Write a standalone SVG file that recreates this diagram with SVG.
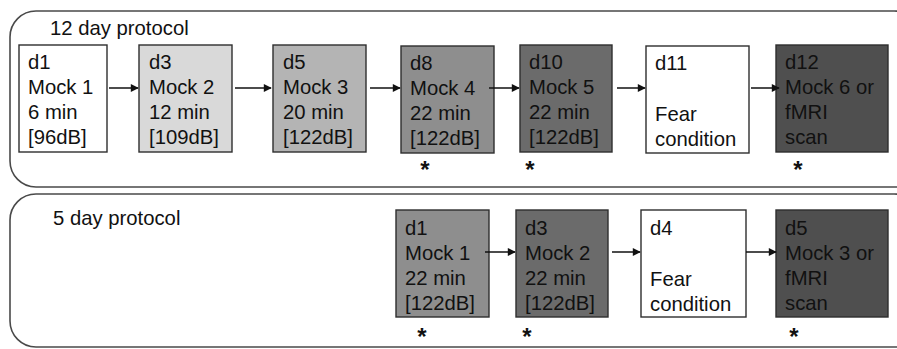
<svg xmlns="http://www.w3.org/2000/svg" width="897" height="349" viewBox="0 0 897 349">
  <style>
    .panel { fill: #ffffff; stroke: #4a4a4a; stroke-width: 1.6; }
    .box { stroke: #2e2e2e; stroke-width: 1.4; }
    .w { fill: #ffffff; }
    .g1 { fill: #d9d9d9; }
    .g2 { fill: #b4b4b4; }
    .g3 { fill: #8e8e8e; }
    .g4 { fill: #6b6b6b; }
    .g5 { fill: #4f4f4f; }
    text { font-family: "Liberation Sans", Arial, sans-serif; font-size: 20.3px; fill: #111111; }
    .star { font-size: 24px; font-weight: bold; text-anchor: middle; }
    .conn line { stroke: #111111; stroke-width: 1.5; marker-end: url(#ah); }
  </style>
  <defs>
    <marker id="ah" viewBox="0 0 10 10" refX="9" refY="5" markerWidth="9" markerHeight="8" markerUnits="userSpaceOnUse" orient="auto">
      <path d="M0,0 L10,5 L0,10 z" fill="#111111"/>
    </marker>
  </defs>
  <rect width="897" height="349" fill="#ffffff"/>

  <!-- protocol panels -->
  <rect class="panel" x="10" y="11" width="910" height="176" rx="26" ry="26"/>
  <rect class="panel" x="10" y="194" width="910" height="153" rx="26" ry="26"/>
  <text x="50" y="35">12 day protocol</text>
  <text x="53" y="225">5 day protocol</text>

  <!-- 12 day protocol -->
  <g id="p12-d1">
    <rect class="box w" x="19" y="45" width="88" height="107"/>
    <text x="28" y="69">d1</text><text x="28" y="94">Mock 1</text><text x="28" y="119">6 min</text><text x="28" y="144">[96dB]</text>
  </g>
  <g id="p12-d3">
    <rect class="box g1" x="139" y="45" width="93" height="107"/>
    <text x="149" y="69">d3</text><text x="149" y="94">Mock 2</text><text x="149" y="119">12 min</text><text x="149" y="144">[109dB]</text>
  </g>
  <g id="p12-d5">
    <rect class="box g2" x="273" y="45" width="93" height="107"/>
    <text x="283" y="69">d5</text><text x="283" y="94">Mock 3</text><text x="283" y="119">20 min</text><text x="283" y="144">[122dB]</text>
  </g>
  <g id="p12-d8">
    <rect class="box g3" x="401" y="46" width="93" height="107"/>
    <text x="410" y="70">d8</text><text x="410" y="95">Mock 4</text><text x="410" y="120">22 min</text><text x="410" y="145">[122dB]</text>
    <text class="star" x="425" y="178">*</text>
  </g>
  <g id="p12-d10">
    <rect class="box g4" x="520" y="45" width="92" height="107"/>
    <text x="529" y="69">d10</text><text x="529" y="94">Mock 5</text><text x="529" y="119">22 min</text><text x="529" y="144">[122dB]</text>
    <text class="star" x="530" y="178">*</text>
  </g>
  <g id="p12-d11">
    <rect class="box w" x="646" y="46" width="103" height="107"/>
    <text x="655" y="70">d11</text><text x="655" y="121">Fear</text><text x="655" y="146">condition</text>
  </g>
  <g id="p12-d12">
    <rect class="box g5" x="776" y="45" width="112" height="107"/>
    <text x="785" y="69">d12</text><text x="785" y="94">Mock 6 or</text><text x="785" y="119">fMRI</text><text x="785" y="144">scan</text>
    <text class="star" x="798" y="178">*</text>
  </g>

  <!-- 5 day protocol -->
  <g id="p5-d1">
    <rect class="box g3" x="396" y="210" width="93" height="107"/>
    <text x="405" y="235">d1</text><text x="405" y="260">Mock 1</text><text x="405" y="285">22 min</text><text x="405" y="310">[122dB]</text>
    <text class="star" x="422" y="345">*</text>
  </g>
  <g id="p5-d3">
    <rect class="box g4" x="516" y="210" width="92" height="107"/>
    <text x="525" y="235">d3</text><text x="525" y="260">Mock 2</text><text x="525" y="285">22 min</text><text x="525" y="310">[122dB]</text>
    <text class="star" x="527" y="345">*</text>
  </g>
  <g id="p5-d4">
    <rect class="box w" x="641" y="210" width="105" height="107"/>
    <text x="650" y="235">d4</text><text x="650" y="286">Fear</text><text x="650" y="311">condition</text>
  </g>
  <g id="p5-d5">
    <rect class="box g5" x="776" y="210" width="112" height="107"/>
    <text x="785" y="235">d5</text><text x="785" y="260">Mock 3 or</text><text x="785" y="285">fMRI</text><text x="785" y="310">scan</text>
    <text class="star" x="794" y="345">*</text>
  </g>

  <!-- connectors -->
  <g class="conn" id="connectors">
    <line x1="109" y1="88" x2="138" y2="88"/>
    <line x1="235" y1="88" x2="271" y2="88"/>
    <line x1="370" y1="88" x2="400" y2="88"/>
    <line x1="489" y1="88" x2="519" y2="88"/>
    <line x1="617" y1="88" x2="645" y2="88"/>
    <line x1="751" y1="88" x2="779" y2="88"/>
    <line x1="485" y1="252" x2="515" y2="252"/>
    <line x1="612" y1="252" x2="640" y2="252"/>
    <line x1="746" y1="252" x2="776" y2="252"/>
  </g>
</svg>
